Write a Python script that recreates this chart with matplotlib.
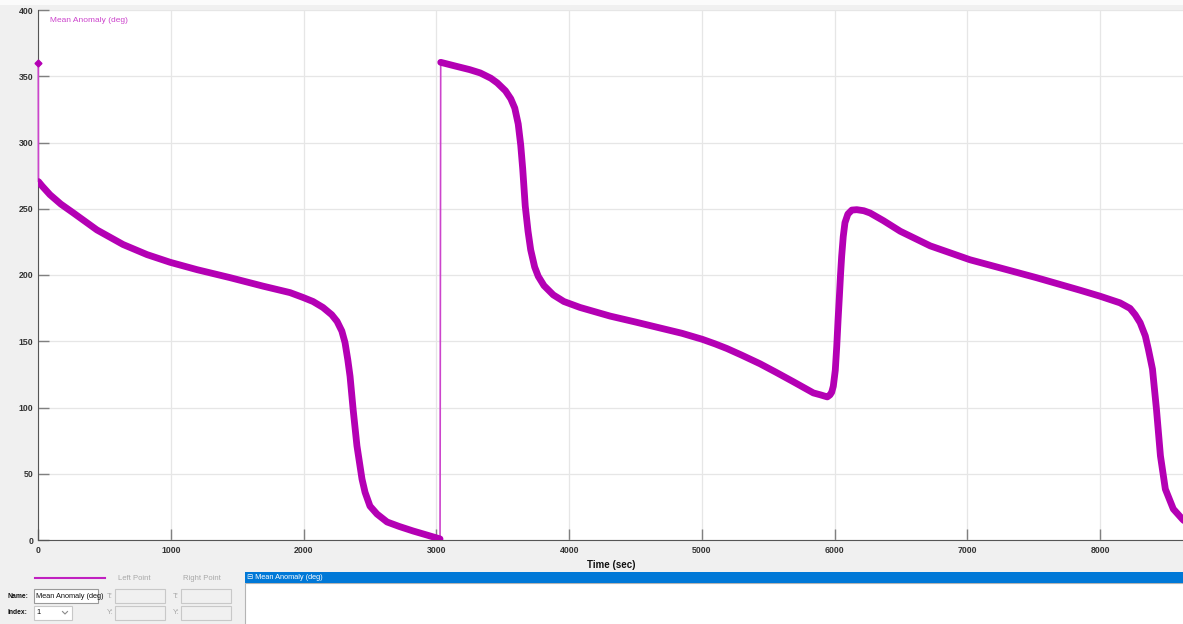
import matplotlib
matplotlib.use('Agg')
import matplotlib.pyplot as plt
from matplotlib.patches import Rectangle
from matplotlib.lines import Line2D

W, H = 1183, 624

# values
time_sec = [0, 1, 30, 88, 170, 262, 442, 639, 819, 993, 1197, 1445, 1693,
            1897, 1996, 2070, 2145, 2211, 2251, 2287, 2311, 2332, 2349, 2372,
            2401, 2439, 2462, 2499, 2552, 2628, 2720, 2824, 2926, 3027,
            3032, 3150, 3250, 3330, 3410, 3458, 3520, 3560, 3590, 3616, 3635,
            3650, 3669, 3690, 3710, 3740, 3767, 3810, 3880, 3960, 4082, 4308,
            4500, 4685, 4850, 5002, 5100, 5189, 5300, 5438, 5560, 5688, 5840,
            5895, 5928, 5945, 5965, 5978, 5990, 6005, 6016, 6026, 6036, 6045,
            6053, 6065, 6078, 6100, 6130, 6167, 6220, 6267, 6368, 6495, 6720,
            7020, 7520, 7850, 8000, 8150, 8226, 8265, 8302, 8341, 8364, 8395,
            8425, 8455, 8492, 8552, 8620, 8660]
mean_anomaly = [360, 270.5, 267, 260.6, 253.5, 247, 234, 223, 215.4, 209.6,
                204, 198, 191.6, 186.7, 183, 180, 175.5, 170, 165, 157.7, 149,
                136, 123.5, 98.7, 71, 46, 36, 25.6, 19.6, 13.6, 10.2, 6.8, 3.8,
                0.8,
                360.5, 357.5, 355, 352.5, 348.5, 345, 339, 333, 326, 314, 298,
                280, 252, 233, 219, 206, 199, 192, 185, 180, 175.5, 169,
                164.5, 160, 156, 151.5, 148, 144.5, 139.5, 133, 126.5, 119.5,
                111, 109.5, 108.5, 108, 109.5, 111.5, 116, 128, 146, 166, 184,
                201, 214, 229, 239.5, 246, 249, 249.3, 248.5, 246.8, 241, 233,
                222, 211.5, 198, 188.5, 184, 179, 174.8, 170, 164, 154, 144,
                129, 98.7, 63.5, 38.4, 23.4, 15.8, 12]
# index ranges of the densely sampled pieces (drawn thick)
pieces = [(1, 34), (34, len(time_sec))]

x_ticks = [0, 1000, 2000, 3000, 4000, 5000, 6000, 7000, 8000]
y_ticks = [0, 50, 100, 150, 200, 250, 300, 350, 400]
series_name = 'Mean Anomaly (deg)'

plt.rcParams['font.family'] = ['Liberation Sans', 'DejaVu Sans']

fig = plt.figure(figsize=(W / 100, H / 100), dpi=100, facecolor='#f0f0f0')


def fx(px):
    return px / W


def fy(py):
    return 1 - py / H


def box(x0, y0, x1, y1, fc, ec='none', lw=0.8):
    fig.add_artist(Rectangle((fx(x0), fy(y1)), fx(x1) - fx(x0), fy(y0) - fy(y1),
                             transform=fig.transFigure, fc=fc, ec=ec, lw=lw))


def label(px, py, s, **kw):
    kw.setdefault('fontsize', 5.5)
    kw.setdefault('va', 'center')
    fig.text(fx(px), fy(py), s, **kw)


# white strip at the very top
box(0, 0, W, 5, '#fbfbfb')

ax = fig.add_axes([fx(38.3), fy(540), 1 - fx(38.3), fy(10) - fy(540)])
ax.set_facecolor('white')
ax.set_xlim(0, 8625)
ax.set_ylim(0, 400)
ax.set_xticks(x_ticks)
ax.set_yticks(y_ticks)
ax.grid(True, color='#e6e6e6', lw=0.9)
ax.set_axisbelow(True)
for s in ['top', 'right']:
    ax.spines[s].set_visible(False)
ax.spines['left'].set_color('#555555')
ax.spines['bottom'].set_color('#555555')
ax.tick_params(direction='in', length=8, width=1, color='#808080',
               labelsize=6.3, labelcolor='#333333')
ax.tick_params(axis='y', pad=3.5)
ax.tick_params(axis='x', pad=4.2)
for t in ax.get_xticklabels() + ax.get_yticklabels():
    t.set_fontweight('bold')

# thin connecting line through every sample, thick where samples are dense
ax.plot(time_sec, mean_anomaly, color='#cc44cc', lw=1.2, zorder=3, clip_on=False)
for a, b in pieces:
    ax.plot(time_sec[a:b], mean_anomaly[a:b], color='#b400b4', lw=4.9,
            solid_capstyle='round', solid_joinstyle='round', zorder=4)
ax.plot(time_sec[0], mean_anomaly[0], 'D', color='#b400b4', ms=3.5,
        zorder=5, clip_on=False)

label(50, 21, series_name, color='#cc44cc', fontsize=6)
label(611, 565, 'Time (sec)', ha='center', fontsize=7, fontweight='bold',
      color='#111111')

# bottom control panel
fig.add_artist(Line2D([fx(35), fx(105)], [fy(578), fy(578)],
                      transform=fig.transFigure, color='#c020c0', lw=1.5))
label(118, 578, 'Left Point', color='#a8a8a8')
label(183, 578, 'Right Point', color='#a8a8a8')

label(8, 596, 'Name:', fontweight='bold', color='#111111', fontsize=4.9)
box(34, 589, 98, 603, 'white', '#9a9a9a')
label(35.5, 596, 'Mean Anomaly (deg)', color='#111111', fontsize=5.3)
label(8, 613, 'Index:', fontweight='bold', color='#111111', fontsize=4.9)
box(34, 606, 72, 620, 'white', '#c8c8c8')
label(36, 613, '1', color='#111111', fontsize=5.5)
fig.add_artist(Line2D([fx(62.5), fx(65), fx(67.5)], [fy(611.5), fy(614), fy(611.5)],
                      transform=fig.transFigure, color='#8a8a8a', lw=0.8))

for px, py, tag in [(107, 596, 'T:'), (173, 596, 'T:'),
                    (107, 613, 'Y:'), (173, 613, 'Y:')]:
    label(px, py, tag, color='#a8a8a8')
    box(px + 8, py - 7, px + 58, py + 7, '#f0f0f0', '#c8c8c8')

box(245, 583, W + 5, H + 5, 'white', '#b4b4b4')
box(245, 572, W + 5, 583, '#0078d7')
label(247, 577.5, '\u229f ' + series_name, color='white', fontsize=5.3)

fig.savefig('out.png', dpi=100, facecolor=fig.get_facecolor())
